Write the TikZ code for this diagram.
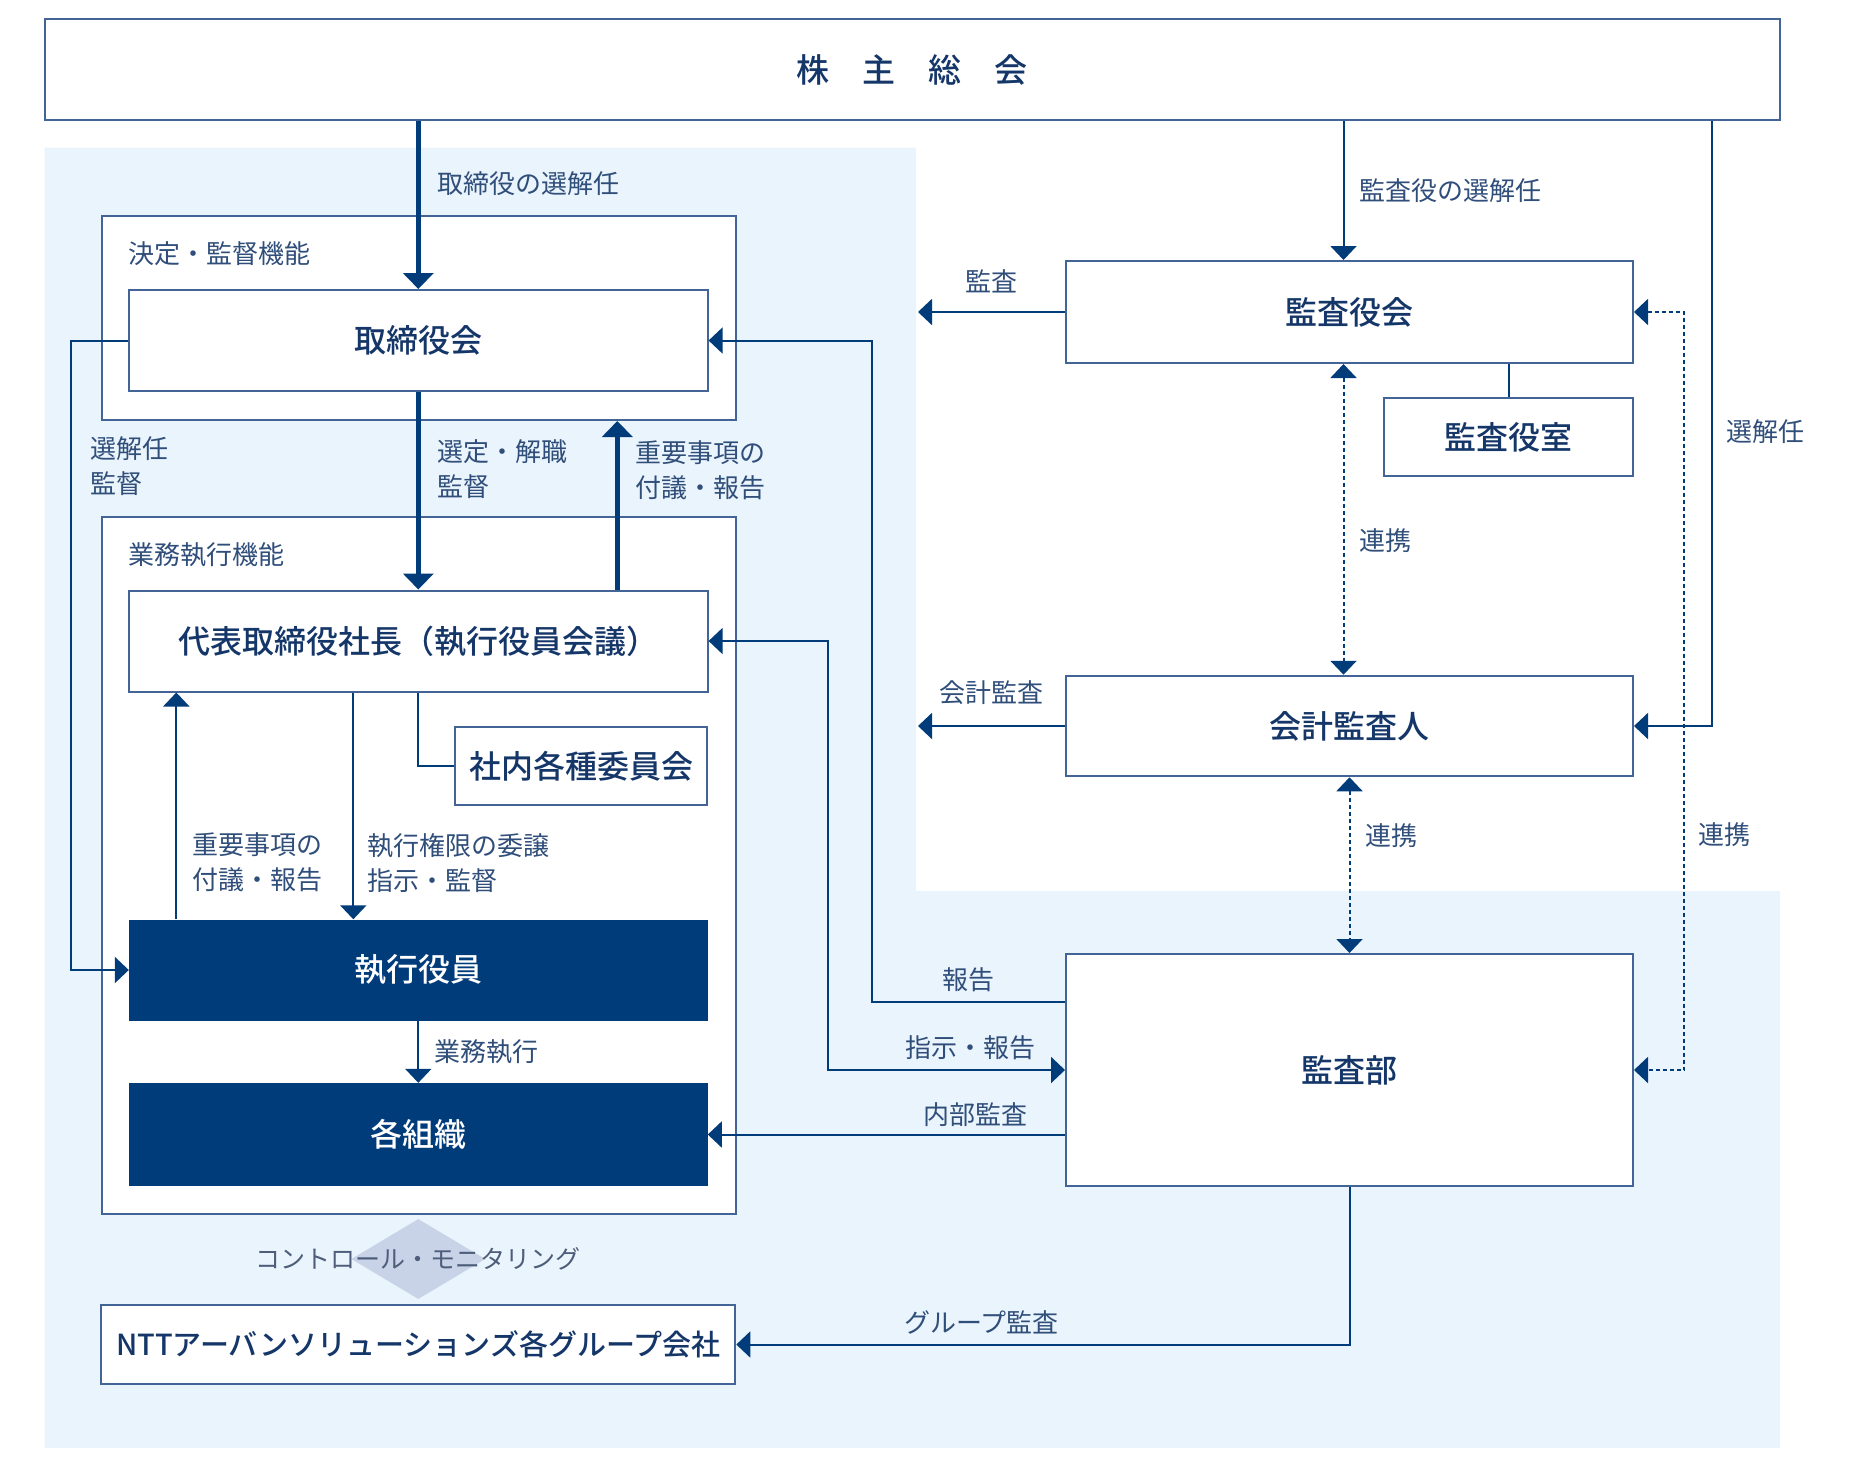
\documentclass[tikz,border=0pt]{standalone}
\usepackage{fontspec}
\setmainfont{Noto Sans CJK JP}[BoldFont={Noto Sans CJK JP Medium}]
\usetikzlibrary{positioning,shapes.geometric,arrows.meta}
\definecolor{navy}{RGB}{0,59,122}
\definecolor{framecol}{RGB}{66,100,150}
\definecolor{boxtext}{RGB}{20,54,104}
\definecolor{lbltext}{RGB}{48,78,122}
\definecolor{bgcol}{RGB}{234,244,252}
\definecolor{diacol}{RGB}{200,211,232}
\definecolor{ctrltext}{RGB}{78,94,122}
\newcommand{\boxfont}{\fontsize{32}{36}\selectfont\bfseries}
\newcommand{\soukaifont}{\fontsize{33}{36}\selectfont\bfseries}
\newcommand{\nttfont}{\fontsize{29}{33}\selectfont\bfseries}
\newcommand{\lblfont}{\fontsize{26}{35}\selectfont}
\newcommand{\ctrlfont}{\fontsize{25}{30}\selectfont}
\tikzstyle{B} = [rectangle,
			draw=framecol, line width=2pt, fill=white,
			text=boxtext, font=\boxfont, inner sep=0pt,
			minimum width=578.6pt, minimum height=101pt]
\tikzstyle{N} = [rectangle,
			fill=navy, text=white, font=\boxfont, inner sep=0pt,
			minimum width=578.6pt, minimum height=101pt]
\tikzstyle{O} = [rectangle,
			draw=framecol, line width=2pt, fill=white,
			inner sep=0pt, minimum width=634pt]
\tikzstyle{T} = [text=lbltext, font=\lblfont, inner sep=0pt, align=left]
\tikzstyle{L} = [draw=navy, line width=2pt, ->]
\tikzstyle{H} = [draw=navy, line width=5pt, -{Triangle[length=16pt,width=30pt]}]
\tikzstyle{R} = [L, dash pattern=on 4pt off 3pt, <->]

\begin{document}
\begin{tikzpicture}[x=1pt, y=-1pt, on grid,
			>={Triangle[length=14pt,width=26pt]}]

\useasboundingbox (0,0) rectangle (1860,1468);

% background
\fill[bgcol] (44.5,147.5) -- (916,147.5) -- (916,891) -- (1780,891)
	-- (1780,1448) -- (44.5,1448) -- cycle;

\node [B, minimum width=1735pt, font=\soukaifont]
(soukai) at (912,69.5)
	{株\hspace{1em}主\hspace{1em}総\hspace{1em}会};

% left side
\node [O, minimum height=204pt]
(decide) at (419,318)
	{};

\node [O, minimum height=697pt, below of =decide, node distance =547.5pt]
(execute)
	{};

\node [T, anchor=west]
(decidelbl) at ([xshift=27pt, yshift=-39pt]decide.north west)
	{決定・監督機能};

\node [T, anchor=west]
(executelbl) at ([xshift=27pt, yshift=-39pt]execute.north west)
	{業務執行機能};

\node [B]
(board) at (418.3,340.5)
	{取締役会};

\node [B, below of =board, node distance =300.5pt]
(pres)
	{代表取締役社長（執行役員会議）};

\node [B, minimum width=252.6pt, minimum height=78pt,
	below right=125pt and 162.7pt of pres]
(comm)
	{社内各種委員会};

\node [N, below of =pres, node distance =329pt]
(exec)
	{執行役員};

\node [N, minimum height=103pt, below of =exec, node distance =164.5pt]
(org)
	{各組織};

\node [diamond, fill=diacol, minimum width=134pt, minimum height=80pt,
	inner sep=0pt, below of =org, node distance =124.5pt]
(dia)
	{};

\node [T, text=ctrltext, font=\ctrlfont]
(ctrl) at (dia)
	{コントロール・モニタリング};

\node [B, minimum width=634pt, minimum height=79pt, font=\nttfont,
	below of =org, node distance =210pt]
(ntt)
	{NTTアーバンソリューションズ各グループ会社};

% right side
\node [B, minimum width=567pt, minimum height=102pt]
(kansa) at (1349.5,312)
	{監査役会};

\node [B, minimum width=249pt, minimum height=78.6pt,
	below right=125pt and 159pt of kansa]
(kroom)
	{監査役室};

\node [B, minimum width=567pt, minimum height=100.5pt,
	below of =kansa, node distance =414pt]
(auditor)
	{会計監査人};

\node [B, minimum width=567pt, minimum height=232pt,
	below of =auditor, node distance =344pt]
(audit)
	{監査部};

\path[H] (board.north |- soukai.south) -- node [T, right=17pt, pos=0.37] {取締役の選解任} (board.north);

\path[H] (board.south) -- node [T, right=17pt, pos=0.39] {選定・解職\\監督} (pres.north);

\path[H] ([xshift=199pt]pres.north) -- node [T, right=16pt, pos=0.71] {重要事項の\\付議・報告} ([xshift=199pt]pres.north |- decide.south);

\path[L] (board.west) -- ++(-57,0) |- node [T, right=18pt, pos=0.1] {選解任\\監督} (exec.west);

\path[L] ([xshift=-65pt]pres.south) -- node [T, right=13.5pt, pos=0.75] {執行権限の委譲\\指示・監督} ([xshift=-65pt]exec.north);

\path[L] ([xshift=-242pt]exec.north) -- node [T, right=15pt, pos=0.25] {重要事項の\\付議・報告} ([xshift=-242pt]pres.south);

\path[L, -] (pres.south) |- (comm.west);

\path[L] (exec.south) -- node [T, right=15pt] {業務執行} (org.north);

\path[L] ([xshift=-6pt]kansa.north |- soukai.south) -- node [T, right=15pt] {監査役の選解任} ([xshift=-6pt]kansa.north);

\path[L] ([xshift=800pt]soukai.south) |- node [T, right=13pt, pos=0.257] {選解任} (auditor.east);

\path[L] (kansa.west) -- node [T, above=18pt] {監査} ++(-147,0);

\path[L] (auditor.west) -- node [T, above=20pt] {会計監査} ++(-147,0);

\path[L, -] (kroom.north) -- (kroom.north |- kansa.south);

\path[R] ([xshift=-6pt]kansa.south) -- node [T, right=15pt, pos=0.57] {連携} ([xshift=-6pt]auditor.north);

\path[R] (auditor.south) -- node [T, right=15pt, pos=0.33] {連携} (audit.north);

\path[R] (kansa.east) -- ++(50,0) |- node [T, right=13pt, pos=0.345] {連携} (audit.east);

\path[L] ([yshift=68pt]audit.west) -- node [T, above=9pt] {報告} ++(-193.5,0) |- (board.east);

\path[L, <->] (pres.east) -- ++(119.4,0) |- node [T, above=9pt, pos=0.8] {指示・報告} (audit.west);

\path[L] (audit.west |- org.east) -- node [T, above=7pt, pos=0.25] {内部監査} (org.east);

\path[L] (audit.south) |- node [T, above=9pt, pos=0.8] {グループ監査} (ntt.east);

\end{tikzpicture}
\end{document}
